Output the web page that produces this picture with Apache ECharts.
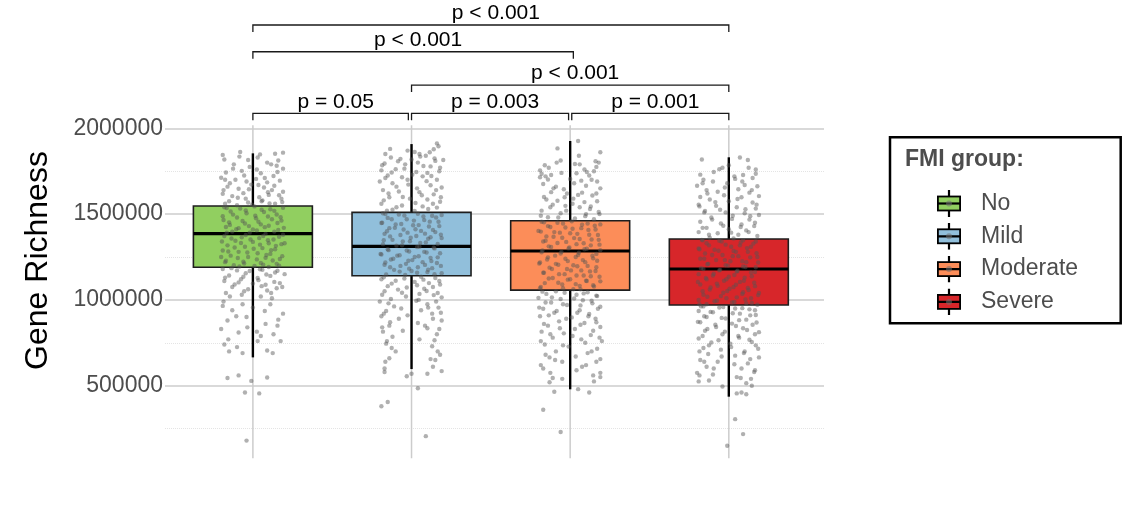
<!DOCTYPE html>
<html>
<head>
<meta charset="utf-8">
<title>Gene Richness by FMI group</title>
<script src="https://cdn.jsdelivr.net/npm/echarts@6/dist/echarts.min.js"></script>
<style>
  html, body { margin: 0; padding: 0; background: #fff; }
  #chart { width: 1138px; height: 505px; }
</style>
</head>
<body>
<div id="chart"></div>
<script>
// groups and box statistics
const groups = ['No', 'Mild', 'Moderate', 'Severe'];
const groupColors = ['#91cf60', '#91bfdb', '#fc8d59', '#d7262a'];
const whiskerLow = [665000, 597000, 479000, 436000];
const q1 = [1190000, 1141000, 1057000, 970000];
const median = [1386000, 1312000, 1285000, 1180000];
const q3 = [1547000, 1510000, 1461000, 1355000];
const whiskerHigh = [1854000, 1908000, 1926000, 1831000];

// y axis
const yMin = 0;
const yMax = 2000000;
const yStep = 500000;
const panelFloor = 77000;

// significance brackets (group positions 1..4)
const bracketFrom = [1, 2, 3.01, 2, 1, 1];
const bracketTo = [1.98, 2.99, 4, 4, 3.02, 4];
const bracketY = [2087000, 2087000, 2087000, 2252000, 2446000, 2602000];
const bracketText = ['p = 0.05', 'p = 0.003', 'p = 0.001', 'p < 0.001', 'p < 0.001', 'p < 0.001'];

// jittered samples: [jitter offset, gene richness]
const pointsNo = [
  [-.19,1845000],[-.08,1862000],[-.03,1815000],[.03,1830000],[.14,1852000],[.19,1858000],[.16,1812000],[-.18,1818000],
  [-.12,1790000],[-.02,1775000],[.09,1800000],[.15,1782000],[.19,1765000],[-.17,1742000],[-.07,1752000],[.05,1738000],
  [.13,1722000],[-.2,1712000],[-.11,1700000],[-.04,1690000],[.02,1705000],[.09,1685000],[.17,1695000],[-.16,1660000],
  [-.09,1648000],[-.01,1672000],[.07,1655000],[.12,1640000],[.19,1630000],[-.19,1618000],[-.13,1605000],[-.06,1622000],
  [.04,1598000],[.1,1612000],[.18,1590000],[-.15,1575000],[-.03,1568000],[.06,1580000],[.14,1560000],[-.1,1552000],
  [-.18,1540000],[-.08,1532000],[.01,1545000],[.11,1528000],[.19,1537000],[-.14,1515000],[-.04,1505000],[.07,1512000],
  [.15,1498000],[-.19,1488000],[-.1,1480000],[.02,1476000],[.12,1470000],[.18,1462000],[-.15,1452000],[-.05,1445000],
  [.05,1440000],[.1,1432000],[-.17,1425000],[-.09,1418000],[0,1410000],[.16,1408000],[-.13,1398000],[-.02,1392000],
  [.08,1385000],[.19,1380000],[-.18,1372000],[-.07,1365000],[.04,1360000],[.13,1352000],[-.11,1345000],[0,1338000],
  [.1,1330000],[.18,1325000],[-.16,1318000],[-.05,1310000],[.06,1302000],[.14,1295000],[-.19,1288000],[-.09,1280000],
  [.03,1272000],[.11,1268000],[-.14,1258000],[-.03,1250000],[.08,1245000],[.17,1238000],[-.17,1228000],[-.06,1222000],
  [.05,1215000],[.15,1210000],[-.12,1202000],[.01,1198000],[.1,1192000],[-.2,1250000],[.2,1330000],
  [-.19,1180000],[-.1,1172000],[-.02,1168000],[.06,1175000],[.14,1160000],[.2,1150000],[-.15,1142000],[-.06,1135000],
  [.03,1128000],[.11,1140000],[-.18,1110000],[-.09,1102000],[0,1095000],[.08,1088000],[.17,1098000],[-.13,1075000],
  [-.03,1062000],[.09,1055000],[.15,1068000],[-.17,1040000],[-.07,1030000],[.05,1020000],[.12,1010000],
  [-.19,965000],[-.13,940000],[0,955000],[.11,975000],[.19,920000],[-.16,880000],[-.04,900000],[.08,860000],
  [.16,885000],[-.2,830000],[-.09,810000],[.05,790000],[.13,800000],[-.18,740000],[-.1,725000],[.03,760000],
  [.09,705000],[-.15,700000],
  [-.16,545000],[-.09,560000],[.09,548000],[-.01,528000],[-.05,460000],[.04,455000],[-.04,180000],
  [-.165,1535000],[-.045,1521000],[.055,1525000],[.135,1519000],[-.125,1497000],[.015,1490000],[.095,1486000],[.175,1482000],
  [-.185,1466000],[-.065,1460000],[.035,1455000],[.155,1448000],[-.145,1437000],[-.025,1430000],[.075,1424000],[.195,1420000],
  [-.105,1412000],[.025,1405000],[.135,1398000],[-.165,1392000],[-.045,1378000],[.065,1372000],[.165,1368000],[-.135,1358000],
  [-.015,1352000],[.095,1348000],[-.195,1340000],[-.075,1332000],[.045,1322000],[.145,1315000],[-.115,1305000],[.005,1298000],
  [.115,1290000],[-.155,1282000],[-.035,1276000],[.085,1262000],[.185,1255000],[-.095,1244000],[.025,1236000],[.125,1230000],
  [-.175,1220000],[-.055,1212000],[.065,1205000],[.165,1200000],[-.085,1195000],
  [-.135,1185000],[.045,1178000],[.155,1170000],[-.045,1155000],[.085,1148000],[-.175,1130000],[-.075,1120000],[.035,1115000],
  [.135,1105000],[-.115,1090000],[.055,1080000],[.185,1075000],[-.055,1050000],[.115,1040000],[-.145,1020000],
  [-.175,1700000],[-.055,1725000],[.075,1710000],[.155,1745000],[-.125,1765000],[.025,1760000],[.115,1790000],[-.085,1835000],
  [.045,1848000],[-.145,1680000],[.035,1670000],[.135,1665000],[-.025,1645000],[.095,1628000],[-.185,1640000],[-.095,1595000],
  [.165,1610000],[-.045,1590000],[.055,1575000],[.185,1570000],[-.175,1560000],[-.005,1555000],[.105,1562000],
  [-.185,990000],[-.065,975000],[.075,935000],[-.105,905000],[.155,850000],[-.035,840000],[.025,815000],[-.155,770000],
  [.175,760000],[-.065,690000],[.125,690000]
];
const pointsMild = [
  [.16,1912000],[.17,1895000],[.14,1878000],[.02,1862000],[.05,1850000],[-.13,1830000],[-.07,1822000],[0,1818000],
  [.09,1840000],[.15,1810000],[.2,1815000],[-.17,1795000],[-.04,1790000],[.04,1800000],[.12,1778000],[.18,1770000],
  [-.19,1755000],[-.1,1762000],[.03,1745000],[.1,1740000],[-.15,1725000],[-.06,1715000],[.07,1720000],[.16,1700000],
  [-.2,1690000],[-.12,1680000],[-.02,1672000],[.12,1668000],[.19,1655000],[-.18,1640000],[-.08,1632000],[.05,1628000],
  [.14,1615000],[-.14,1598000],[-.01,1590000],[.1,1585000],[.18,1572000],[-.19,1560000],[-.06,1550000],[.07,1545000],
  [.16,1538000],[-.12,1525000],[.02,1518000],
  [-.18,1505000],[-.08,1498000],[.04,1502000],[.13,1490000],[.19,1495000],[-.15,1478000],[-.03,1470000],[.08,1465000],
  [.17,1455000],[-.19,1448000],[-.1,1440000],[.01,1435000],[.11,1428000],[-.14,1418000],[-.05,1410000],[.06,1402000],
  [.15,1395000],[-.17,1385000],[-.07,1378000],[.03,1372000],[.12,1365000],[.19,1360000],[-.12,1350000],[-.01,1342000],
  [.09,1335000],[-.18,1325000],[-.06,1318000],[.05,1310000],[.14,1305000],[-.15,1295000],[-.03,1288000],[.08,1280000],
  [.18,1272000],[-.19,1265000],[-.09,1258000],[.02,1250000],[.12,1245000],[-.13,1235000],[-.02,1228000],[.07,1220000],
  [.16,1215000],[-.17,1205000],[-.07,1198000],[.04,1190000],[.13,1185000],[-.11,1175000],[0,1168000],[.1,1162000],
  [.19,1155000],[-.16,1148000],[-.04,1145000],
  [.06,1135000],[.15,1128000],[-.19,1120000],[-.1,1112000],[.02,1105000],[.11,1098000],[.18,1090000],[-.15,1080000],
  [-.03,1072000],[.08,1065000],[-.17,1050000],[-.06,1042000],[.05,1035000],[.14,1028000],[.19,1015000],[-.13,1005000],
  [-.2,990000],[.03,995000],[.1,975000],[-.11,962000],[.17,955000],[-.16,935000],[.06,940000],[.13,920000],
  [-.19,905000],[-.08,890000],[.19,880000],[.04,865000],[-.14,850000],[.1,835000],[-.18,815000],[.16,800000],
  [-.12,785000],[.05,770000],[-.16,745000],[.13,730000],[-.1,700000],[.18,680000],[.12,655000],[.15,650000],
  [-.14,660000],[-.17,600000],[-.03,555000],[0,570000],[.1,570000],[.19,585000],[-.17,580000],[.04,485000],
  [-.15,405000],[-.19,380000],[.09,206000],
  [-.165,1500000],[-.045,1492000],[.075,1486000],[.155,1480000],[-.125,1470000],[.015,1462000],[.115,1456000],[-.185,1450000],
  [-.065,1442000],[.045,1436000],[.175,1430000],[-.105,1420000],[.025,1412000],[.135,1408000],[-.155,1400000],[-.025,1392000],
  [.085,1386000],[.185,1380000],[-.135,1370000],[-.005,1362000],[.105,1356000],[-.175,1348000],[-.055,1340000],[.055,1332000],
  [.165,1326000],[-.095,1316000],[.035,1308000],[.145,1300000],[-.145,1290000],[-.015,1282000],[.095,1276000],[-.195,1268000],
  [-.075,1260000],[.045,1254000],[.165,1248000],[-.115,1240000],[.005,1232000],[.125,1226000],[-.165,1218000],[-.035,1210000],
  [.085,1204000],[.185,1198000],[-.135,1190000],[-.015,1182000],[.105,1176000],[-.075,1165000],[.035,1158000],[.145,1150000],
  [-.175,1132000],[-.045,1125000],[.075,1118000],[.175,1110000],[-.125,1095000],[.035,1085000],[.135,1075000],[-.085,1060000],
  [.095,1052000],[-.185,1030000],[.165,1040000],[-.035,1020000],[.045,1000000],[-.145,980000],[.155,990000],[-.065,950000],
  [.105,955000],[-.175,920000],[.185,925000],[-.025,910000],[.135,890000],[-.135,870000],[.085,850000],[-.185,840000],
  [.175,830000],[-.055,820000],[-.155,760000],[.145,765000],[-.125,720000],[.165,700000],[-.165,640000],[.135,610000],
  [-.135,1880000],[-.025,1870000],[.115,1860000],[-.165,1850000],[.055,1835000],[-.085,1808000],[.145,1825000],[-.185,1785000],
  [.075,1780000],[-.045,1765000],[.175,1750000],[-.125,1742000],[.005,1730000],[.125,1722000],[-.165,1710000],[-.025,1700000],
  [.095,1692000],[-.095,1660000],[.035,1650000],[.155,1640000],[-.145,1620000],[.065,1610000],[-.055,1600000],[.185,1598000],
  [-.175,1580000],[.025,1565000],[.135,1560000],[-.095,1540000],[.105,1530000],[-.155,1520000]
];
const pointsModerate = [
  [.05,1926000],[-.08,1883000],[.19,1860000],[-.06,1812000],[.16,1808000],[.03,1792000],[.06,1790000],[.18,1800000],
  [-.16,1785000],[-.19,1755000],[.09,1760000],[.15,1750000],[-.18,1735000],[-.12,1728000],[.04,1738000],[.12,1725000],
  [-.19,1715000],[-.14,1702000],[0,1705000],[.07,1695000],[.17,1690000],[-.17,1675000],[-.09,1660000],[.1,1665000],
  [.19,1650000],[-.04,1645000],[-.12,1628000],[-.02,1620000],[.05,1612000],[.14,1608000],[-.15,1585000],[-.08,1578000],
  [.02,1590000],[.09,1570000],[.17,1575000],[-.11,1555000],[-.03,1548000],[.06,1540000],[.13,1545000],[-.18,1520000],
  [.18,1512000],[-.06,1505000],[.1,1500000],[-.14,1482000],[.03,1475000],[.15,1470000],
  [-.18,1455000],[-.08,1450000],[.01,1458000],[.11,1445000],[.19,1440000],[-.14,1430000],[-.03,1422000],[.07,1418000],
  [.16,1410000],[-.2,1402000],[-.1,1395000],[0,1388000],[.12,1380000],[-.15,1370000],[-.05,1362000],[.06,1355000],
  [.18,1350000],[-.17,1340000],[-.08,1332000],[.04,1325000],[.13,1318000],[-.12,1308000],[-.01,1300000],[.09,1295000],
  [.19,1290000],[-.18,1278000],[-.06,1270000],[.05,1262000],[.14,1258000],[-.14,1248000],[-.03,1240000],[.08,1232000],
  [.17,1228000],[-.19,1218000],[-.09,1210000],[.02,1202000],[.11,1198000],[-.13,1188000],[-.02,1180000],[.07,1172000],
  [.16,1168000],[-.17,1158000],[-.07,1150000],[.04,1142000],[.13,1138000],[-.11,1128000],[0,1120000],[.1,1112000],
  [.19,1108000],[-.16,1098000],[-.05,1090000],[.06,1082000],[.15,1078000],[-.19,1068000],[.02,1062000],
  [-.09,1050000],[.11,1045000],[-.15,1035000],[.04,1030000],[.17,1022000],[-.2,1012000],[-.06,1005000],[.08,998000],
  [-.12,985000],[.14,980000],[-.02,970000],[.19,960000],[-.17,948000],[.06,940000],[-.1,925000],[.12,918000],
  [-.19,905000],[.01,898000],[.16,890000],[-.07,875000],[.09,865000],[-.14,850000],[.19,842000],[.03,830000],
  [-.18,815000],[-.04,805000],[.13,795000],[-.11,780000],[.07,770000],[.2,760000],[-.16,740000],[-.01,728000],
  [.17,715000],[-.09,700000],[.11,690000],[-.13,665000],[.19,655000],[-.05,640000],[.1,620000],[-.17,600000],
  [.04,590000],[-.11,545000],[-.05,540000],[-.13,520000],[.15,525000],[.19,550000],[.19,575000],[-.1,465000],
  [.05,480000],[.12,460000],[-.17,360000],[-.06,230000],
  [-.165,1452000],[-.045,1445000],[.075,1438000],[.155,1432000],[-.125,1425000],[.015,1415000],[.115,1408000],[-.185,1398000],
  [-.065,1392000],[.045,1385000],[.175,1378000],[-.105,1368000],[.025,1360000],[.135,1352000],[-.155,1345000],[-.025,1338000],
  [.085,1330000],[.185,1322000],[-.135,1312000],[-.005,1305000],[.105,1298000],[-.175,1288000],[-.055,1280000],[.055,1275000],
  [.165,1268000],[-.095,1258000],[.035,1250000],[.145,1242000],[-.145,1235000],[-.015,1226000],[.095,1220000],[-.195,1212000],
  [-.075,1205000],[.045,1196000],[.165,1190000],[-.115,1180000],[.005,1172000],[.125,1166000],[-.165,1158000],[-.035,1150000],
  [.085,1142000],[.185,1135000],[-.135,1125000],[-.015,1118000],[.105,1110000],[-.075,1100000],[.035,1092000],[.145,1085000],
  [-.185,1075000],[-.045,1068000],[.065,1062000],
  [-.125,1540000],[.015,1560000],[.125,1530000],[-.165,1600000],[-.035,1598000],[.075,1625000],[.165,1620000],[-.105,1650000],
  [.025,1680000],[.135,1700000],[-.155,1720000],[-.055,1740000],[.105,1745000],[-.135,1770000],[.165,1775000],[-.085,1800000],
  [.055,1840000],[.185,1500000],[-.185,1490000],[-.075,1480000],[.095,1488000],[-.025,1520000],
  [-.175,1048000],[-.035,1042000],[.085,1038000],[.165,1025000],[-.115,1015000],[.025,1008000],[.135,995000],[-.155,985000],
  [-.045,975000],[.065,968000],[-.195,955000],[.175,948000],[-.085,935000],[.045,925000],[-.135,910000],[.115,905000],
  [-.025,890000],[.165,870000],[-.165,860000],[.065,855000],[-.065,835000],[.145,820000],[-.125,800000],[.015,790000],
  [.185,780000],[-.185,760000],[.095,750000],[-.045,735000],[.135,700000],[-.155,680000],[.035,670000],[-.095,650000],
  [.165,640000],[-.185,620000],[.075,610000],[-.125,575000],[.145,560000]
];
const pointsSevere = [
  [.07,1830000],[-.17,1818000],[.12,1815000],[-.04,1770000],[-.06,1762000],[.17,1760000],[0,1785000],[-.18,1730000],
  [.09,1728000],[.17,1735000],[-.16,1700000],[-.1,1690000],[.04,1705000],[.15,1710000],[-.2,1665000],[-.01,1680000],
  [.1,1670000],[.18,1662000],[-.14,1640000],[-.07,1630000],[.06,1645000],[.13,1625000],[-.18,1600000],[-.03,1610000],
  [.08,1598000],[.19,1605000],[-.12,1585000],[0,1575000],[.15,1568000],[-.19,1555000],[-.08,1548000],[.05,1540000],
  [.17,1532000],[-.15,1518000],[-.02,1510000],[.1,1505000],[.19,1495000],[-.11,1480000],[.02,1472000],[.13,1468000],
  [-.18,1455000],[-.05,1445000],[.08,1440000],[.16,1430000],[-.14,1420000],[0,1412000],[.11,1405000],[-.19,1395000],
  [-.07,1388000],[.06,1380000],[.18,1372000],[-.12,1362000],[.03,1358000],
  [-.17,1350000],[-.06,1345000],[.09,1348000],[.17,1340000],[-.14,1330000],[-.02,1322000],[.07,1318000],[.14,1310000],
  [-.19,1300000],[-.09,1292000],[.03,1285000],[.12,1280000],[-.15,1270000],[-.04,1262000],[.06,1255000],[.18,1250000],
  [-.18,1240000],[-.08,1232000],[.01,1225000],[.11,1220000],[-.13,1210000],[-.02,1202000],[.09,1195000],[.17,1190000],
  [-.16,1180000],[-.06,1172000],[.05,1165000],[.14,1160000],[-.19,1150000],[-.1,1142000],[0,1135000],[.1,1130000],
  [-.14,1120000],[-.03,1112000],[.07,1105000],[.16,1100000],[-.18,1090000],[-.07,1082000],[.03,1075000],[.12,1070000],
  [-.12,1060000],[-.01,1052000],[.09,1045000],[.19,1040000],[-.16,1030000],[-.05,1022000],[.05,1015000],[.14,1010000],
  [-.19,1000000],[-.09,992000],[.02,985000],[.11,980000],[-.14,975000],[.18,972000],
  [-.16,962000],[-.06,955000],[.04,950000],[.13,945000],[-.19,935000],[-.1,928000],[.07,920000],[.17,912000],
  [-.14,900000],[-.02,892000],[.11,885000],[-.18,870000],[.02,862000],[.15,855000],[-.08,842000],[.09,835000],
  [-.15,820000],[.19,812000],[-.04,800000],[.06,790000],[-.19,775000],[.13,768000],[-.11,752000],[.01,745000],
  [.17,735000],[-.16,720000],[-.05,710000],[.1,700000],[-.13,685000],[.04,675000],[.19,665000],[-.18,650000],
  [-.07,640000],[.12,630000],[-.14,610000],[.08,600000],[-.2,575000],[.16,580000],[-.1,565000],[.05,550000],
  [.14,540000],[-.19,525000],[.11,515000],[-.04,495000],[.08,460000],[.11,450000],[.05,455000],[.04,305000],
  [.09,218000],[-.01,150000],
  [-.165,1348000],[-.045,1340000],[.075,1335000],[.155,1328000],[-.125,1318000],[.015,1310000],[.115,1302000],[-.185,1295000],
  [-.065,1286000],[.045,1280000],[.175,1272000],[-.105,1262000],[.025,1255000],[.135,1248000],[-.155,1240000],[-.025,1232000],
  [.085,1225000],[.185,1218000],[-.135,1208000],[-.005,1200000],[.105,1192000],[-.175,1185000],[-.055,1175000],[.055,1170000],
  [.165,1162000],[-.095,1152000],[.035,1145000],[.145,1138000],[-.145,1128000],[-.015,1120000],[.095,1112000],[-.195,1105000],
  [-.075,1095000],[.045,1088000],[.165,1080000],[-.115,1072000],[.005,1065000],[.125,1058000],[-.165,1050000],[-.035,1042000],
  [.085,1035000],[.185,1028000],[-.135,1018000],[-.015,1010000],[.105,1002000],[-.075,995000],[.035,988000],[.145,982000],
  [-.185,975000],
  [-.125,1380000],[.015,1392000],[.125,1395000],[-.165,1420000],[-.035,1432000],[.075,1425000],[.165,1450000],[-.105,1468000],
  [.025,1490000],[.135,1488000],[-.155,1510000],[-.055,1525000],[.105,1528000],[-.185,1545000],[.175,1555000],[-.085,1570000],
  [.055,1588000],[-.135,1620000],[.145,1640000],[-.025,1655000],[.085,1690000],[-.165,1680000],[.035,1720000],[-.095,1745000],
  [.125,1770000],
  [-.175,962000],[-.035,958000],[.085,952000],[.165,940000],[-.115,930000],[.025,922000],[.135,910000],[-.155,905000],
  [-.045,895000],[.065,882000],[-.195,872000],[.175,868000],[-.085,855000],[.045,848000],[-.135,830000],[.115,825000],
  [-.025,815000],[.165,800000],[-.165,790000],[.065,780000],[-.065,765000],[.145,755000],[-.125,735000],[.015,725000],
  [.185,715000],[-.185,700000],[.095,690000],[-.045,670000],[.135,655000],[-.155,640000],[.035,625000],[-.095,600000],
  [.165,590000],[-.185,560000],[.075,545000],[-.125,530000],[.145,500000]
];
const pointSets = [pointsNo, pointsMild, pointsModerate, pointsSevere];

const fontFamily = '"Liberation Sans", Arial, Helvetica, sans-serif';

// boxplot glyph for the legend
function legendIcon(color) {
  const svg = '<svg xmlns="http://www.w3.org/2000/svg" width="39" height="27" viewBox="0 0 39 27">' +
    '<line x1="12" y1="0" x2="12" y2="27" stroke="#000" stroke-width="2.2"/>' +
    '<rect x="0.9" y="6.5" width="22.2" height="14" fill="' + color + '" stroke="#000" stroke-width="1.8"/>' +
    '<line x1="0.9" y1="13.5" x2="23.1" y2="13.5" stroke="#000" stroke-width="2.2"/>' +
    '<circle cx="12" cy="13.5" r="3" fill="#707070" fill-opacity="0.55"/>' +
    '</svg>';
  return 'image://data:image/svg+xml;charset=utf-8,' + encodeURIComponent(svg);
}

function renderGridLine(params, api) {
  const x = api.value(0);
  const top = api.coord([x, yMax]);
  const bottom = api.coord([x, panelFloor]);
  return {
    type: 'line',
    shape: { x1: top[0], y1: top[1] - 3, x2: bottom[0], y2: bottom[1] },
    style: { stroke: '#cccccc', lineWidth: 1.5 }
  };
}

function renderBox(params, api) {
  const x = api.value(0);
  const half = 0.375;
  const lo = api.coord([x, api.value(1)]);
  const b1 = api.coord([x, api.value(2)]);
  const md = api.coord([x, api.value(3)]);
  const b3 = api.coord([x, api.value(4)]);
  const hi = api.coord([x, api.value(5)]);
  const xl = api.coord([x - half, yMin])[0];
  const xr = api.coord([x + half, yMin])[0];
  const color = api.visual('color');
  return {
    type: 'group',
    children: [
      { type: 'line', shape: { x1: hi[0], y1: hi[1], x2: b3[0], y2: b3[1] }, style: { stroke: '#000', lineWidth: 2.4 } },
      { type: 'line', shape: { x1: b1[0], y1: b1[1], x2: lo[0], y2: lo[1] }, style: { stroke: '#000', lineWidth: 2.4 } },
      { type: 'rect', shape: { x: xl, y: b3[1], width: xr - xl, height: b1[1] - b3[1] }, style: { fill: color, stroke: '#1e1e1e', lineWidth: 1.6 } },
      { type: 'line', shape: { x1: xl, y1: md[1], x2: xr, y2: md[1] }, style: { stroke: '#000', lineWidth: 3.2 } }
    ]
  };
}

function renderBracket(params, api) {
  const a = api.coord([api.value(0), api.value(2)]);
  const b = api.coord([api.value(1), api.value(2)]);
  const tip = 7;
  return {
    type: 'group',
    children: [
      {
        type: 'polyline',
        shape: { points: [[a[0], a[1] + tip], [a[0], a[1]], [b[0], b[1]], [b[0], b[1] + tip]] },
        style: { stroke: '#1a1a1a', lineWidth: 1.3, fill: null }
      },
      {
        type: 'text',
        x: (a[0] + b[0]) / 2 + 5,
        y: a[1] - 1,
        style: {
          text: bracketText[params.dataIndex],
          fill: '#000',
          fontSize: 21,
          fontFamily: fontFamily,
          align: 'center',
          verticalAlign: 'bottom'
        }
      }
    ]
  };
}

const series = [];

// vertical grid lines at each group
series.push({
  type: 'custom',
  name: 'grid',
  silent: true,
  z: 1,
  renderItem: renderGridLine,
  data: groups.map((g, i) => [i + 1]),
  encode: { x: 0 }
});

// one box series per group so the legend can pick them up
groups.forEach((g, i) => {
  series.push({
    type: 'custom',
    name: g,
    z: 2,
    silent: true,
    itemStyle: { color: groupColors[i] },
    renderItem: renderBox,
    data: [[i + 1, whiskerLow[i], q1[i], median[i], q3[i], whiskerHigh[i]]],
    encode: { x: 0, y: [1, 2, 3, 4, 5] }
  });
});

// jittered points on top of the boxes
series.push({
  type: 'scatter',
  name: 'samples',
  z: 3,
  silent: true,
  symbolSize: 4.4,
  itemStyle: { color: 'rgba(85,85,85,0.58)' },
  data: [].concat(...pointSets.map((pts, i) => pts.map(p => [i + 1 + p[0], p[1]])))
});

series.push({
  type: 'custom',
  name: 'brackets',
  z: 4,
  silent: true,
  clip: false,
  renderItem: renderBracket,
  data: bracketText.map((t, i) => [bracketFrom[i], bracketTo[i], bracketY[i]]),
  encode: { x: [0, 1], y: 2 }
});

const chart = echarts.init(document.getElementById('chart'));
chart.setOption({
  animation: false,
  backgroundColor: '#ffffff',
  textStyle: { fontFamily: fontFamily },
  grid: { left: 165, right: 314, top: 128.3, bottom: 33.5 },
  xAxis: {
    type: 'value',
    min: 0.446,
    max: 4.6,
    axisLine: { show: false },
    axisTick: { show: false },
    axisLabel: { show: false },
    splitLine: { show: false }
  },
  yAxis: {
    type: 'value',
    min: yMin,
    max: yMax,
    interval: yStep,
    axisLine: { show: false },
    axisTick: { show: false },
    axisLabel: {
      showMinLabel: false,
      color: '#4d4d4d',
      fontSize: 23,
      margin: 2,
      fontFamily: fontFamily,
      formatter: v => String(v)
    },
    splitLine: { showMinLine: false, lineStyle: { color: '#cccccc', width: 1.5 } },
    minorTick: { show: false, splitNumber: 2 },
    minorSplitLine: { show: true, lineStyle: { color: '#e4e4e4', type: 'dotted', width: 1 } }
  },
  title: {
    text: 'FMI group:',
    left: 905,
    top: 148,
    padding: 0,
    textStyle: { fontSize: 23, fontWeight: 'bold', color: '#4d4d4d', fontFamily: fontFamily }
  },
  legend: {
    orient: 'vertical',
    left: 937,
    top: 190,
    padding: 0,
    itemWidth: 39,
    itemHeight: 27,
    itemGap: 5.8,
    selectedMode: false,
    data: groups.map((g, i) => ({ name: g, icon: legendIcon(groupColors[i]) })),
    textStyle: { color: '#4d4d4d', fontSize: 23, fontFamily: fontFamily }
  },
  graphic: [
    {
      type: 'rect',
      z: 1,
      shape: { x: 890, y: 137.3, width: 230.7, height: 186 },
      style: { fill: 'none', stroke: '#000', lineWidth: 2.5 }
    },
    {
      type: 'text',
      x: 38.5,
      y: 260.5,
      rotation: Math.PI / 2,
      style: { text: 'Gene Richness', fontSize: 32, fill: '#000', fontFamily: fontFamily, align: 'center', verticalAlign: 'middle' }
    }
  ],
  series: series
});
</script>
</body>
</html>
